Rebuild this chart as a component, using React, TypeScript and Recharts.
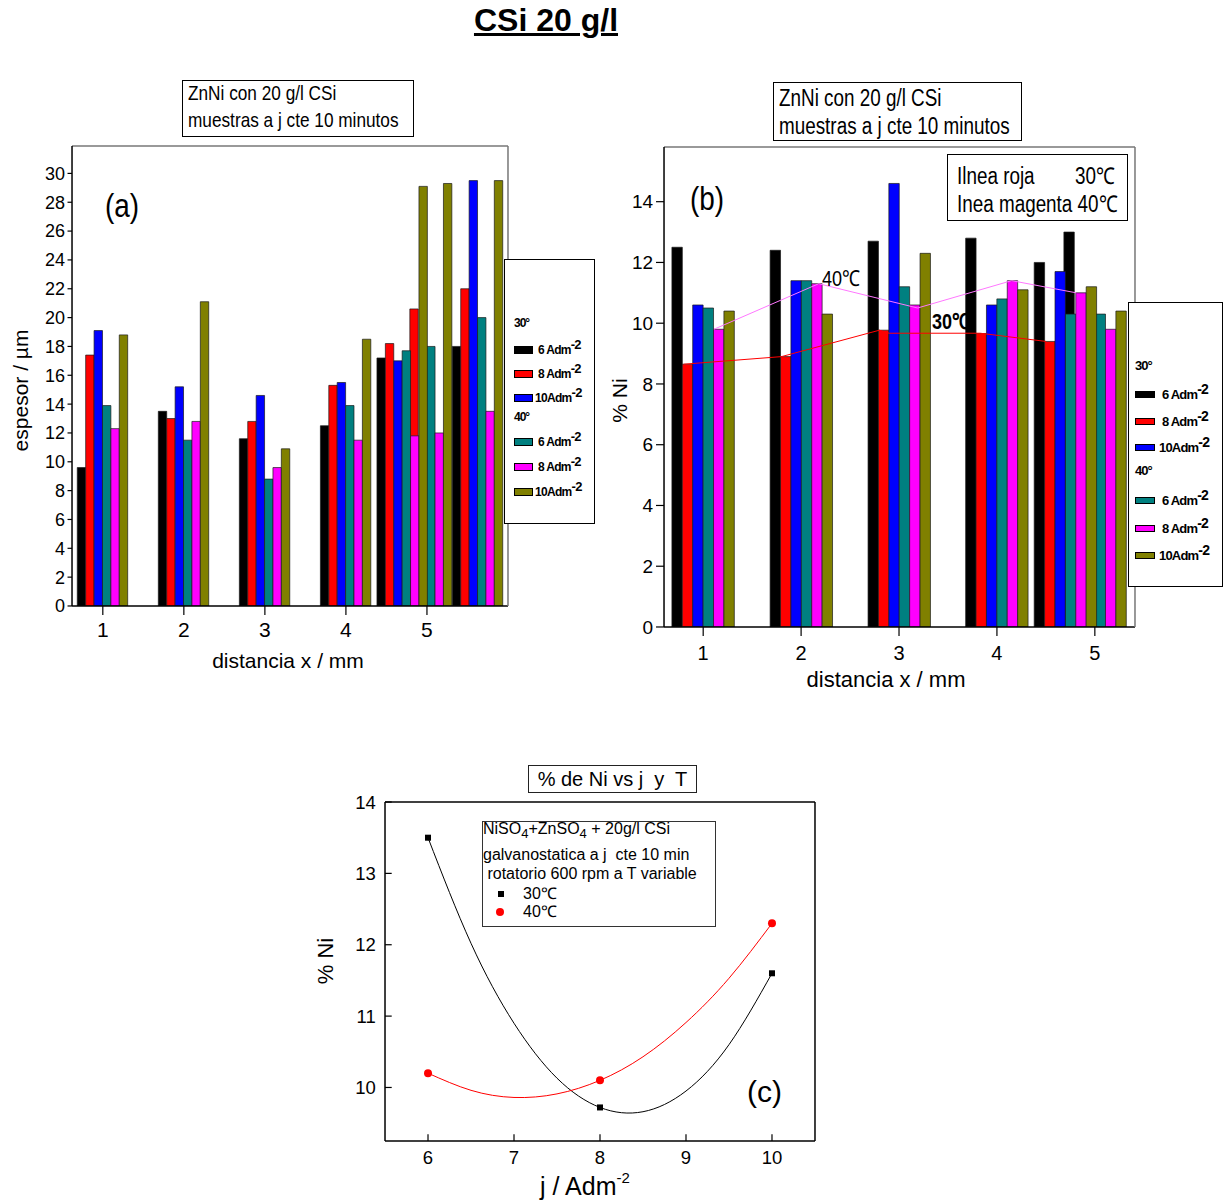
import React from 'react';
import { ComposedChart, Bar, Line, Scatter, XAxis, YAxis } from 'recharts';

const PAGE_W = 1232;
const PAGE_H = 1203;
const SANS = "'Liberation Sans', Arial, sans-serif";
const THIN = 0.01; // axis band size: nonzero so the axis is drawn, but takes no room

// series order: 30° 6/8/10 Adm-2, then 40° 6/8/10 Adm-2
const SERIES_KEYS = ['t30j6', 't30j8', 't30j10', 't40j6', 't40j8', 't40j10'];
const COLORS = ['#000000', '#ff0000', '#0000ff', '#008080', '#ff00ff', '#808000'];
const LEGEND_LABELS = ['6 Adm', '8 Adm', '10Adm', '6 Adm', '8 Adm', '10Adm'];

// (a) espesor / µm vs distancia x / mm
const distA = [1, 2, 3, 4, 4.7, 5, 5.63];
const espesor30j6 = [9.6, 13.5, 11.6, 12.5, 17.2, null, 18.0];
const espesor30j8 = [17.4, 13.0, 12.8, 15.3, 18.2, 20.6, 22.0];
const espesor30j10 = [19.1, 15.2, 14.6, 15.5, 17.0, null, 29.5];
const espesor40j6 = [13.9, 11.5, 8.8, 13.9, 17.7, 18.0, 20.0];
const espesor40j8 = [12.3, 12.8, 9.6, 11.5, 11.8, 12.0, 13.5];
const espesor40j10 = [18.8, 21.1, 10.9, 18.5, 29.1, 29.3, 29.5];
const xTicksA = [1, 2, 3, 4, 5];
const xMinorA = [1.5, 2.5, 3.5, 4.5, 5.5];
const yTicksA = [0, 2, 4, 6, 8, 10, 12, 14, 16, 18, 20, 22, 24, 26, 28, 30];
const yMinorA = [1, 3, 5, 7, 9, 11, 13, 15, 17, 19, 21, 23, 25, 27, 29, 31];

// (b) % Ni vs distancia x / mm
const distB = [1, 2, 3, 4, 4.7, 5];
const ni30j6 = [12.5, 12.4, 12.7, 12.8, 12.0, 13.0];
const ni30j8 = [8.65, 8.9, 9.77, 9.66, 9.4, null];
const ni30j10 = [10.6, 11.4, 14.6, 10.6, 11.7, null];
const ni40j6 = [10.5, 11.4, 11.2, 10.8, 10.3, 10.3];
const ni40j8 = [9.8, 11.3, 10.6, 11.4, 11.0, 9.8];
const ni40j10 = [10.4, 10.3, 12.3, 11.1, 11.2, 10.4];
const redLineX = [0.8, 1.8, 2.8, 2.9, 3.83, 4.5];
const redLineNi = [8.65, 8.9, 9.77, 9.67, 9.67, 9.4];
const magentaLineX = [1.11, 2.18, 3.19, 4.15, 4.81];
const magentaLineNi = [9.8, 11.3, 10.5, 11.4, 11.0];
const xTicksB = [1, 2, 3, 4, 5];
const xMinorB = [1.5, 2.5, 3.5, 4.5];
const yTicksB = [0, 2, 4, 6, 8, 10, 12, 14];
const yMinorB = [1, 3, 5, 7, 9, 11, 13, 15];

// (c) % Ni vs j
const jValues = [6, 8, 10];
const ni30C = [13.5, 9.72, 11.6];
const ni40C = [10.2, 10.1, 12.3];
const fitJ = [6, 6.5, 7, 7.5, 8, 8.5, 9, 9.5, 10];
const fit30C = [13.5, 12.02, 10.9, 10.13, 9.72, 9.66, 9.95, 10.6, 11.6];
const fit40C = [10.2, 9.96, 9.86, 9.91, 10.1, 10.43, 10.91, 11.53, 12.3];
const xTicksC = [6, 7, 8, 9, 10];
const yTicksC = [10, 11, 12, 13, 14];

const seriesA = [espesor30j6, espesor30j8, espesor30j10, espesor40j6, espesor40j8, espesor40j10];
const seriesB = [ni30j6, ni30j8, ni30j10, ni40j6, ni40j8, ni40j10];

const toRows = (xs: number[], series: (number | null)[][]) =>
  xs.map((x, i) => {
    const row: any = { x };
    SERIES_KEYS.forEach((k, s) => (row[k] = series[s][i]));
    return row;
  });
const pick = (rows: any[], idx: number[]) => idx.map((i) => rows[i]);
const xy = (xs: number[], ys: number[]) => xs.map((x, i) => ({ x, y: ys[i] }));

const rowsA = toRows(distA, seriesA);
const rowsB = toRows(distB, seriesB);

// plot boxes in page pixels
const boxA = { left: 72, top: 146, right: 508, bottom: 606 };
const boxB = { left: 664, top: 147, right: 1135, bottom: 627 };
const boxC = { left: 385, top: 802, right: 815, bottom: 1141 };
const marginOf = (b: any) => ({ left: b.left, top: b.top, right: PAGE_W - b.right, bottom: PAGE_H - b.bottom });

const domainA = { x: [0.62, 6.0], y: [0, 31.9] };
const domainB = { x: [0.6, 5.41], y: [0, 15.8] };
const domainC = { x: [5.5, 10.5], y: [9.25, 14] };

const AXIS = { stroke: '#000', strokeWidth: 1.5 };
const FRAME = { stroke: '#777', strokeWidth: 1.5 };
const TICK = { stroke: '#000', strokeWidth: 1.2 };

function hiddenAxes(d: any) {
  return [
    <XAxis key="hx" type="number" dataKey="x" domain={d.x} allowDataOverflow hide />,
    <YAxis key="hy" type="number" domain={d.y} allowDataOverflow hide />,
  ];
}

function panelAxes(p: any) {
  return [
    <XAxis key="x" type="number" dataKey="x" domain={p.d.x} allowDataOverflow ticks={p.xTicks} interval={0}
      height={THIN} tickSize={9} tickMargin={p.xMargin} axisLine={AXIS} tickLine={TICK}
      tick={{ fontSize: p.xFont, fill: '#000', fontFamily: SANS }} />,
    <XAxis key="xm" xAxisId="minor" type="number" domain={p.d.x} allowDataOverflow ticks={p.xMinor} interval={0}
      height={THIN} tickSize={5} tick={false} axisLine={false} tickLine={TICK} />,
    <XAxis key="xt" xAxisId="top" orientation="top" type="number" domain={p.d.x} allowDataOverflow
      height={THIN} tick={false} tickLine={false} axisLine={FRAME} />,
    <YAxis key="y" type="number" domain={p.d.y} allowDataOverflow ticks={p.yTicks} interval={0}
      width={THIN} tickSize={p.ySize} tickMargin={p.yMargin} axisLine={AXIS} tickLine={TICK}
      tick={{ fontSize: p.yFont, fill: '#000', fontFamily: SANS }} />,
    <YAxis key="ym" yAxisId="minor" type="number" domain={p.d.y} allowDataOverflow ticks={p.yMinor} interval={0}
      width={THIN} tickSize={p.yMinorSize} tick={false} axisLine={false} tickLine={TICK} />,
    <YAxis key="yr" yAxisId="right" orientation="right" type="number" domain={p.d.y} allowDataOverflow
      width={THIN} tick={false} tickLine={false} axisLine={FRAME} />,
  ];
}

const axesA = { d: domainA, xTicks: xTicksA, xMinor: xMinorA, xMargin: 7, xFont: 21, yTicks: yTicksA, yMinor: yMinorA, ySize: 4.5, yMinorSize: 3, yMargin: 2.5, yFont: 18 };
const axesB = { d: domainB, xTicks: xTicksB, xMinor: xMinorB, xMargin: 10, xFont: 20, yTicks: yTicksB, yMinor: yMinorB, ySize: 8, yMinorSize: 4.5, yMargin: 3, yFont: 19 };

const Layer = ({ children }: any) => <div style={{ position: 'absolute', left: 0, top: 0 }}>{children}</div>;

function barLayer(rows: any[], box: any, barSize: number, axes: any[]) {
  return (
    <Layer>
      <ComposedChart width={PAGE_W} height={PAGE_H} data={rows} margin={marginOf(box)} barGap={0}>
        {axes}
        {SERIES_KEYS.map((k, i) => (
          <Bar key={k} dataKey={k} fill={COLORS[i]} barSize={barSize} stroke="#1a1a1a" strokeWidth={0.7}
            isAnimationActive={false} />
        ))}
      </ComposedChart>
    </Layer>
  );
}

// text placed by its baseline; narrow = squeezed like Arial Narrow
const T = ({ x, y, size, weight = 400, narrow = false, style, children }: any) => (
  <div style={{ position: 'absolute', left: x, top: y - 0.8465 * size, fontSize: size, lineHeight: `${size}px`,
    fontFamily: SANS, fontWeight: weight, whiteSpace: 'pre', color: '#000',
    transform: narrow ? 'scaleX(0.82)' : undefined, transformOrigin: '0 0', ...style }}>{children}</div>
);

const VLabel = ({ cx, cy, size, children }: any) => (
  <div style={{ position: 'absolute', left: cx - 150, top: cy - size / 2, width: 300, height: size,
    lineHeight: `${size}px`, textAlign: 'center', transform: 'rotate(-90deg)', fontSize: size,
    fontFamily: SANS, whiteSpace: 'pre', color: '#000' }}>{children}</div>
);

const Frame = ({ left, top, width, height, border = '1px solid #000' }: any) => (
  <div style={{ position: 'absolute', left, top, width, height, border, background: '#fff', boxSizing: 'border-box' }} />
);

const Sup = ({ size, lift, children }: any) => (
  <span style={{ fontSize: size, position: 'relative', top: -lift }}>{children}</span>
);
const Sub = ({ size, drop, children }: any) => (
  <span style={{ fontSize: size, position: 'relative', top: drop }}>{children}</span>
);

function BarLegend({ box, heads, rowsY, swatch, labelX, labelX10, size, supSize, spacing }: any) {
  return (
    <>
      <Frame left={box.left} top={box.top} width={box.width} height={box.height} />
      <T x={swatch.x} y={heads[0] + 0.36 * size} size={size} weight={700} style={{ letterSpacing: -1 }}>30°</T>
      <T x={swatch.x} y={heads[1] + 0.36 * size} size={size} weight={700} style={{ letterSpacing: -1 }}>40°</T>
      {rowsY.map((cy: number, i: number) => (
        <React.Fragment key={i}>
          <div style={{ position: 'absolute', left: swatch.x, top: cy - swatch.h / 2, width: swatch.w, height: swatch.h,
            background: COLORS[i], border: '1px solid #000', boxSizing: 'border-box' }} />
          <T x={LEGEND_LABELS[i].startsWith('10') ? labelX10 : labelX} y={cy + 0.36 * size} size={size} weight={700}
            style={{ letterSpacing: spacing }}>
            {LEGEND_LABELS[i]}<Sup size={supSize} lift={5}>-2</Sup>
          </T>
        </React.Fragment>
      ))}
    </>
  );
}

const squareShape = (p: any) => <rect x={p.cx - 3} y={p.cy - 3} width={6} height={6} fill="#000" />;
const dotShape = (p: any) => <circle cx={p.cx} cy={p.cy} r={4} fill="#ff0000" />;

export default function App() {
  return (
    <div style={{ position: 'absolute', left: 0, top: 0, width: PAGE_W, height: PAGE_H, background: '#fff',
      overflow: 'hidden', fontFamily: SANS }}>
      <T x={0} y={31} size={32} weight={700} style={{ width: 1092, textAlign: 'center', textDecoration: 'underline' }}>
        CSi 20 g/l
      </T>

      {/* (a) */}
      {barLayer(pick(rowsA, [0, 1, 2, 3, 5]), boxA, 8.4, hiddenAxes(domainA))}
      {barLayer(pick(rowsA, [4, 6]), boxA, 8.4, panelAxes(axesA))}
      <Frame left={182} top={80} width={232} height={57} />
      <T x={188} y={100} size={21} narrow>ZnNi con 20 g/l CSi</T>
      <T x={188} y={127} size={21} narrow>muestras a j cte 10 minutos</T>
      <T x={105} y={217} size={34} narrow>(a)</T>
      <VLabel cx={20} cy={390} size={21}>espesor / µm</VLabel>
      <T x={188} y={668} size={21} style={{ width: 200, textAlign: 'center' }}>distancia x / mm</T>
      <BarLegend box={{ left: 504, top: 259, width: 91, height: 265 }} heads={[323, 417]}
        rowsY={[350, 374, 398, 442, 467, 492]} swatch={{ x: 514, w: 19, h: 8 }} labelX={538} labelX10={535}
        size={12} supSize={13} spacing={-0.7} />

      {/* (b) */}
      {barLayer(pick(rowsB, [1, 2, 5]), boxB, 10.4, hiddenAxes(domainB))}
      {barLayer(pick(rowsB, [0, 3, 4]), boxB, 10.4, panelAxes(axesB))}
      <Layer>
        <ComposedChart width={PAGE_W} height={PAGE_H} margin={marginOf(boxB)}>
          {hiddenAxes(domainB)}
          <Line data={xy(redLineX, redLineNi)} dataKey="y" type="linear" stroke="#ff0000" strokeWidth={1}
            dot={false} isAnimationActive={false} />
          <Line data={xy(magentaLineX, magentaLineNi)} dataKey="y" type="linear" stroke="#ff77ff" strokeWidth={1}
            dot={false} isAnimationActive={false} />
        </ComposedChart>
      </Layer>
      <Frame left={773} top={82} width={249} height={59} />
      <T x={779} y={106} size={23} narrow>ZnNi con 20 g/l CSi</T>
      <T x={779} y={134} size={23} narrow>muestras a j cte 10 minutos</T>
      <Frame left={947} top={154} width={181} height={67} />
      <T x={957} y={184} size={23} narrow>Ilnea roja</T>
      <T x={1075} y={184} size={23} narrow>30℃</T>
      <T x={957} y={212} size={23} narrow>Inea magenta 40℃</T>
      <T x={690} y={210} size={34} narrow>(b)</T>
      <T x={822} y={287} size={22} narrow>40℃</T>
      <T x={932} y={330} size={22} narrow weight={700}>30℃</T>
      <VLabel cx={619} cy={400} size={21}>% Ni</VLabel>
      <T x={786} y={688} size={22} style={{ width: 200, textAlign: 'center' }}>distancia x / mm</T>
      <BarLegend box={{ left: 1128, top: 302, width: 95, height: 285 }} heads={[365, 470]}
        rowsY={[394, 421, 447, 500, 528, 555]} swatch={{ x: 1135, w: 20, h: 7 }} labelX={1162} labelX10={1159}
        size={13} supSize={14} spacing={-0.8} />

      {/* (c) */}
      <Layer>
        <ComposedChart width={PAGE_W} height={PAGE_H} margin={marginOf(boxC)}>
          <XAxis type="number" dataKey="x" domain={domainC.x} allowDataOverflow ticks={xTicksC} interval={0}
            height={THIN} tickSize={-6.7} tickMargin={17} axisLine={AXIS} tickLine={TICK}
            tick={{ fontSize: 18.5, fill: '#000', fontFamily: SANS }} />
          <YAxis type="number" domain={domainC.y} allowDataOverflow ticks={yTicksC} interval={0}
            width={THIN} tickSize={-6.7} tickMargin={16} axisLine={AXIS} tickLine={TICK}
            tick={{ fontSize: 18.5, fill: '#000', fontFamily: SANS }} />
          <XAxis xAxisId="top" orientation="top" type="number" domain={domainC.x} allowDataOverflow
            height={THIN} tick={false} tickLine={false} axisLine={AXIS} />
          <YAxis yAxisId="right" orientation="right" type="number" domain={domainC.y} allowDataOverflow
            width={THIN} tick={false} tickLine={false} axisLine={AXIS} />
          <Line data={xy(fitJ, fit30C)} dataKey="y" type="natural" stroke="#000" strokeWidth={1}
            dot={false} isAnimationActive={false} />
          <Line data={xy(fitJ, fit40C)} dataKey="y" type="natural" stroke="#ff0000" strokeWidth={1}
            dot={false} isAnimationActive={false} />
          <Scatter data={xy(jValues, ni30C)} dataKey="y" shape={squareShape} isAnimationActive={false} />
          <Scatter data={xy(jValues, ni40C)} dataKey="y" shape={dotShape} isAnimationActive={false} />
        </ComposedChart>
      </Layer>
      <Frame left={528} top={765} width={169} height={28} border="1.5px solid #222" />
      <T x={528} y={786} size={20} style={{ width: 169, textAlign: 'center' }}>% de Ni vs j  y  T</T>
      <Frame left={482} top={821} width={234} height={106} border="1px solid #333" />
      <T x={483} y={835} size={16}>
        NiSO<Sub size={13} drop={4}>4</Sub>+ZnSO<Sub size={13} drop={4}>4</Sub> + 20g/l CSi
      </T>
      <T x={483} y={861} size={16}>galvanostatica a j  cte 10 min</T>
      <T x={483} y={880} size={16}> rotatorio 600 rpm a T variable</T>
      <div style={{ position: 'absolute', left: 498, top: 891, width: 6, height: 6, background: '#000' }} />
      <T x={523} y={900} size={16}>30℃</T>
      <div style={{ position: 'absolute', left: 496, top: 908, width: 8, height: 8, borderRadius: 4, background: '#ff0000' }} />
      <T x={523} y={918} size={16}>40℃</T>
      <T x={747} y={1102} size={30}>(c)</T>
      <VLabel cx={326} cy={961} size={22}>% Ni</VLabel>
      <T x={485} y={1195} size={25} style={{ width: 200, textAlign: 'center' }}>
        j / Adm<Sup size={15} lift={12}>-2</Sup>
      </T>
    </div>
  );
}
